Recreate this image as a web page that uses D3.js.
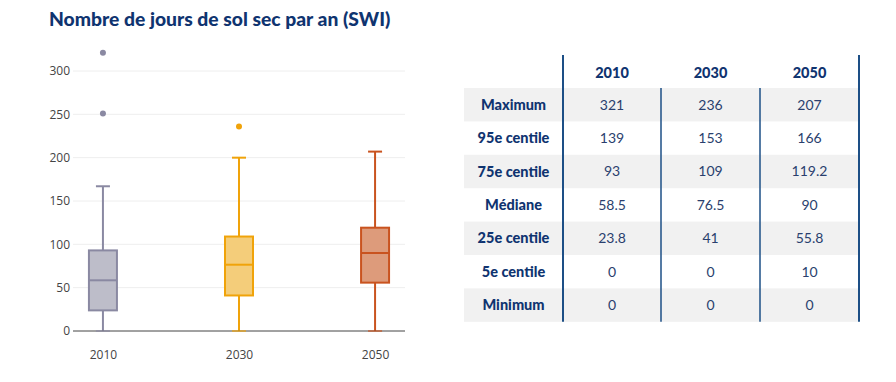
<!DOCTYPE html>
<html><head><meta charset="utf-8">
<script src="https://cdn.jsdelivr.net/npm/d3@7"></script>
<style>body{margin:0;background:#fff}svg{display:block}</style>
</head><body>
<svg id="c" width="896" height="382"></svg>
<script>
const title = "Nombre de jours de sol sec par an (SWI)";
const years = ["2010", "2030", "2050"];
const upperWhisker = [167, 200, 207];
const q3 = [93, 109, 119.2];
const medians = [58.5, 76.5, 90];
const q1 = [23.8, 41, 55.8];
const lowerWhisker = [0, 0, 0];
const outliers = [[321, 251], [236], []];
const yTicks = [0, 50, 100, 150, 200, 250, 300];

const rowLabels = ["Maximum", "95e centile", "75e centile", "Médiane", "25e centile", "5e centile", "Minimum"];
const tMax = [321, 236, 207];
const t95 = [139, 153, 166];
const t75 = [93, 109, 119.2];
const tMed = [58.5, 76.5, 90];
const t25 = [23.8, 41, 55.8];
const t5 = [0, 0, 10];
const tMin = [0, 0, 0];
const tableRows = [tMax, t95, t75, tMed, t25, t5, tMin];

const fills = ["#bdbdc9", "#f4cd7a", "#dd9b7b"];
const strokes = ["#8a89a2", "#f0a30a", "#c9531f"];
const navy = "#0f3470";

const svg = d3.select("#c");

svg.append("text").attr("x", 49).attr("y", 26)
  .attr("font-family", "Lato, 'Noto Sans', sans-serif").attr("font-weight", 900)
  .attr("font-size", 19.3).attr("fill", navy).text(title);

// chart
const x = d3.scalePoint().domain(years).range([73, 405]).padding(0.22);
const y = d3.scaleLinear().domain([0, 300]).range([331, 71]);

const g = svg.append("g");
g.selectAll("line.grid").data(yTicks.filter(d => d !== 0)).join("line")
  .attr("x1", 73).attr("x2", 405).attr("y1", d => y(d)).attr("y2", d => y(d))
  .attr("stroke", "#eeeeee").attr("stroke-width", 1);

const yAxis = g.append("g").attr("transform", "translate(70,0)")
  .call(d3.axisLeft(y).tickValues(yTicks).tickSize(0).tickPadding(0));
yAxis.select(".domain").remove();
yAxis.selectAll("text").attr("font-family", "'Open Sans', sans-serif").attr("font-size", 12).attr("fill", "#444");

const xAxis = g.append("g").attr("transform", "translate(0,345)")
  .call(d3.axisBottom(x).tickSize(0).tickPadding(5));
xAxis.select(".domain").remove();
xAxis.selectAll("text").attr("font-family", "'Open Sans', sans-serif").attr("font-size", 12).attr("fill", "#444");

const boxW = 28, capW = 14;
years.forEach((yr, i) => {
  const cx = x(yr);
  const bg = g.append("g");
  bg.append("line").attr("x1", cx).attr("x2", cx).attr("y1", y(upperWhisker[i])).attr("y2", y(q3[i]))
    .attr("stroke", strokes[i]).attr("stroke-width", 2);
  bg.append("line").attr("x1", cx).attr("x2", cx).attr("y1", y(q1[i])).attr("y2", y(lowerWhisker[i]))
    .attr("stroke", strokes[i]).attr("stroke-width", 2);
  bg.append("line").attr("x1", cx - capW / 2).attr("x2", cx + capW / 2).attr("y1", y(upperWhisker[i])).attr("y2", y(upperWhisker[i]))
    .attr("stroke", strokes[i]).attr("stroke-width", 2);
  bg.append("rect").attr("x", cx - boxW / 2).attr("width", boxW)
    .attr("y", y(q3[i])).attr("height", y(q1[i]) - y(q3[i]))
    .attr("fill", fills[i]).attr("stroke", strokes[i]).attr("stroke-width", 2);
  bg.append("line").attr("x1", cx - boxW / 2).attr("x2", cx + boxW / 2).attr("y1", y(medians[i])).attr("y2", y(medians[i]))
    .attr("stroke", strokes[i]).attr("stroke-width", 2);
  bg.selectAll("circle").data(outliers[i]).join("circle")
    .attr("cx", cx).attr("cy", d => y(d)).attr("r", 3).attr("fill", strokes[i]);
});

// zero line
g.append("line").attr("x1", 73).attr("x2", 405).attr("y1", y(0)).attr("y2", y(0))
  .attr("stroke", "#444").attr("stroke-width", 1);
years.forEach((yr, i) => {
  const cx = x(yr);
  g.append("line").attr("x1", cx - capW / 2).attr("x2", cx + capW / 2).attr("y1", y(lowerWhisker[i])).attr("y2", y(lowerWhisker[i]))
    .attr("stroke", strokes[i]).attr("stroke-width", 2).attr("opacity", 0.6);
});

// table
const colEdges = [464, 563, 661, 760, 859];
const headTop = 55, rowTop = 88, rowH = 33.4;
const tg = svg.append("g");
rowLabels.forEach((lab, r) => {
  const ry = rowTop + r * rowH;
  if (r % 2 === 0) {
    tg.append("rect").attr("x", colEdges[0]).attr("y", ry).attr("width", colEdges[4] - colEdges[0]).attr("height", rowH)
      .attr("fill", "#f1f1f1");
  }
  tg.append("text").attr("x", (colEdges[0] + colEdges[1]) / 2).attr("y", ry + rowH / 2).attr("dy", "0.35em")
    .attr("text-anchor", "middle").attr("font-family", "Lato, sans-serif").attr("font-weight", 900)
    .attr("font-size", 14.5).attr("fill", navy).text(lab);
  tableRows[r].forEach((v, c) => {
    tg.append("text").attr("x", (colEdges[c + 1] + colEdges[c + 2]) / 2).attr("y", ry + rowH / 2).attr("dy", "0.35em")
      .attr("text-anchor", "middle").attr("font-family", "Lato, sans-serif")
      .attr("font-size", 14).attr("fill", "#2a3f6e").text(String(v));
  });
});
years.forEach((yr, c) => {
  tg.append("text").attr("x", (colEdges[c + 1] + colEdges[c + 2]) / 2).attr("y", headTop + (rowTop - headTop) / 2 + 1).attr("dy", "0.35em")
    .attr("text-anchor", "middle").attr("font-family", "Lato, sans-serif").attr("font-weight", 900)
    .attr("font-size", 14.5).attr("fill", navy).text(yr);
});
const tableBottom = rowTop + rowLabels.length * rowH;
[1, 2, 3, 4].forEach(k => {
  const outer = (k === 1 || k === 4);
  tg.append("line").attr("x1", colEdges[k]).attr("x2", colEdges[k])
    .attr("y1", outer ? headTop : rowTop).attr("y2", tableBottom)
    .attr("stroke", "#1d4f86").attr("stroke-width", outer ? 2 : 1.5);
});
</script>
</body></html>
